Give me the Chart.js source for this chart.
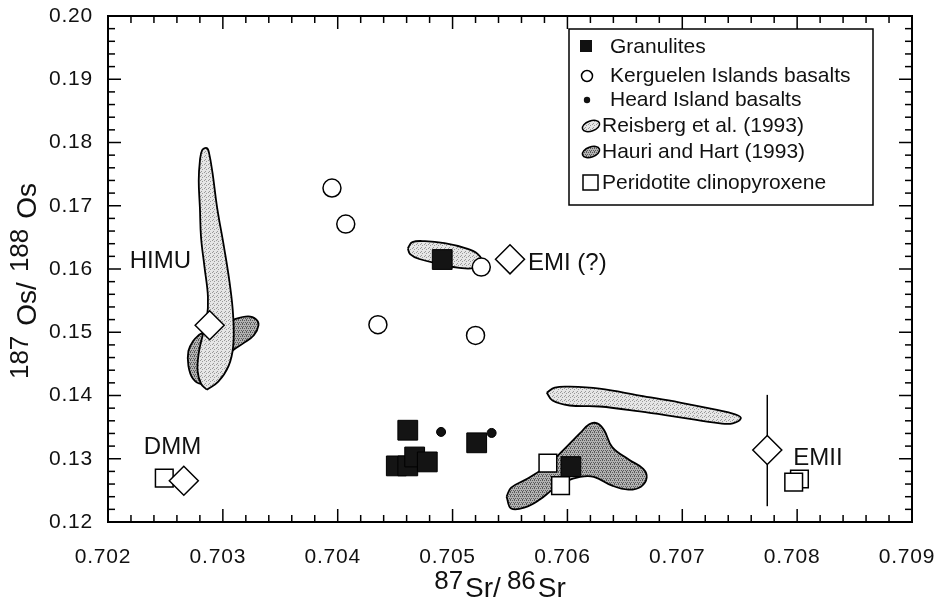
<!DOCTYPE html>
<html>
<head>
<meta charset="utf-8">
<script src="https://cdn.jsdelivr.net/npm/chart.js@4.4.1/dist/chart.umd.min.js"></script>
<style>
  html, body { margin: 0; padding: 0; background: #fff; }
</style>
</head>
<body>
<canvas id="osChart" width="935" height="602"></canvas>
<script>
// axis ranges
const X_MIN = 0.702, X_MAX = 0.709, X_STEP = 0.001, X_MINOR = 0.0002;
const Y_MIN = 0.12, Y_MAX = 0.20, Y_STEP = 0.01, Y_MINOR = 0.002;

// Granulites
const granX = [0.70461, 0.70451, 0.70461, 0.70467, 0.70478, 0.70521, 0.70491, 0.70603];
const granY = [0.13451, 0.12887, 0.12887, 0.13028, 0.12950, 0.13252, 0.16150, 0.12876];

// Kerguelen Islands basalts
const kergX = [0.70395, 0.70407, 0.70435, 0.70520, 0.70525];
const kergY = [0.1728, 0.1671, 0.1512, 0.1495, 0.1603];

// Heard Island basalts
const heardX = [0.70490, 0.70534];
const heardY = [0.13424, 0.13408];

// Peridotite clinopyroxene
const cpxX = [0.70583, 0.70594, 0.70249, 0.70802, 0.70797];
const cpxY = [0.1293, 0.12574, 0.12695, 0.1268, 0.1263];

// mantle end-members
const memberNames = ["HIMU", "DMM", "EMI (?)", "EMII"];
const memberX = [0.702885, 0.70266, 0.70550, 0.70774];
const memberY = [0.15110, 0.12653, 0.16153, 0.13138];

// EMII range bar
const emiiBarX = [0.70774, 0.70774];
const emiiBarY = [0.1225, 0.1401];

// Reisberg et al. (1993) fields
const reisHimuX = [0.70286, 0.70281, 0.70278, 0.70279, 0.70282, 0.70286, 0.70287, 0.70284, 0.70281, 0.70280,
  0.70279, 0.70280, 0.70282, 0.70286, 0.70288, 0.70291, 0.70295, 0.70301, 0.70306, 0.70309, 0.70309, 0.70305, 0.70296];
const reisHimuY = [0.14092, 0.14186, 0.14390, 0.14671, 0.14922, 0.15203, 0.15563, 0.16033, 0.16502, 0.16972,
  0.17394, 0.17707, 0.17879, 0.17911, 0.17832, 0.17519, 0.16972, 0.16346, 0.15767, 0.15251, 0.14781, 0.14468, 0.14218];

const reisEmiX = [0.70461, 0.70465, 0.70476, 0.70493, 0.70511, 0.70522, 0.70525, 0.70519, 0.70506, 0.70489, 0.70471, 0.70463];
const reisEmiY = [0.16330, 0.16424, 0.16440, 0.16408, 0.16330, 0.16236, 0.16111, 0.16017, 0.16017, 0.16080, 0.16158, 0.16236];

const reisLongX = [0.70582, 0.70589, 0.70602, 0.70628, 0.70663, 0.70698, 0.70728, 0.70746, 0.70751, 0.70744,
  0.70733, 0.70698, 0.70663, 0.70628, 0.70602, 0.70587];
const reisLongY = [0.14045, 0.14124, 0.14139, 0.14108, 0.13998, 0.13889, 0.13779, 0.13701, 0.13639, 0.13560,
  0.13560, 0.13654, 0.13748, 0.13826, 0.13842, 0.13920];

// Hauri and Hart (1993) fields
const hauriHimuX = [0.70280, 0.70293, 0.70310, 0.70322, 0.70329, 0.70331, 0.70327, 0.70318, 0.70308, 0.70299,
  0.70290, 0.70282, 0.70274, 0.70270, 0.70270, 0.70274];
const hauriHimuY = [0.14969, 0.15078, 0.15204, 0.15250, 0.15204, 0.15110, 0.14953, 0.14828, 0.14703, 0.14515,
  0.14311, 0.14186, 0.14264, 0.14468, 0.14703, 0.14859];

const hauriBigX = [0.70547, 0.70551, 0.70565, 0.70582, 0.70599, 0.70611, 0.70619, 0.70626, 0.70632, 0.70639,
  0.70654, 0.70666, 0.70669, 0.70664, 0.70653, 0.70639, 0.70623, 0.70611, 0.70598, 0.70587, 0.70576, 0.70563, 0.70551];
const hauriBigY = [0.12402, 0.12543, 0.12684, 0.12887, 0.13185, 0.13404, 0.13545, 0.13560, 0.13451, 0.13185,
  0.12981, 0.12840, 0.12700, 0.12559, 0.12512, 0.12574, 0.12715, 0.12715, 0.12637, 0.12512, 0.12355, 0.12230, 0.12214];

const FONT = '"Liberation Sans", Arial, Helvetica, sans-serif';
Chart.defaults.font.family = FONT;
Chart.defaults.color = "#111";

const canvas = document.getElementById("osChart");
const ctx = canvas.getContext("2d");

const pts = (xs, ys) => xs.map((x, i) => ({ x, y: ys[i] }));
const loop = (xs, ys) => {
  const p = pts(xs, ys);
  p.push({ ...p[0] });
  return p;
};

function stipple(base, dot, cells) {
  const c = document.createElement("canvas");
  c.width = 4;
  c.height = 4;
  const g = c.getContext("2d");
  g.fillStyle = base;
  g.fillRect(0, 0, 4, 4);
  g.fillStyle = dot;
  cells.forEach(([x, y]) => g.fillRect(x, y, 1, 1));
  return ctx.createPattern(c, "repeat");
}

const lightFill = stipple("#e6e6e6", "#9a9a9a", [[0, 0], [2, 1], [1, 3]]);
const darkFill = stipple("#b2b2b2", "#5a5a5a", [[0, 0], [2, 0], [1, 2], [3, 2], [2, 3]]);

const field = (label, xs, ys, fill, order) => ({
  label,
  data: loop(xs, ys),
  showLine: true,
  fill: "shape",
  tension: 0.4,
  backgroundColor: fill,
  borderColor: "#000",
  borderWidth: 1.8,
  pointRadius: 0,
  order,
});

const tickLine = (c, x1, y1, x2, y2) => {
  c.beginPath();
  c.moveTo(x1, y1);
  c.lineTo(x2, y2);
  c.stroke();
};

// frame with inward ticks on all four sides
const frameTicks = {
  id: "frameTicks",
  beforeDraw(chart) {
    chart.ctx.letterSpacing = "0.8px";
  },
  beforeDatasetsDraw(chart) {
    chart.ctx.letterSpacing = "0px";
  },
  afterDraw(chart) {
    const { ctx: c, chartArea: a, scales: { x, y } } = chart;
    c.save();
    c.strokeStyle = "#000";
    c.lineWidth = 1.5;
    const nx = Math.round((X_MAX - X_MIN) / X_MINOR);
    for (let i = 0; i <= nx; i++) {
      const px = x.getPixelForValue(X_MIN + i * X_MINOR);
      const len = i % 5 === 0 ? 13 : 7;
      tickLine(c, px, a.bottom, px, a.bottom - len);
      tickLine(c, px, a.top, px, a.top + len);
    }
    const ny = Math.round((Y_MAX - Y_MIN) / Y_MINOR);
    for (let i = 0; i <= ny; i++) {
      const py = y.getPixelForValue(Y_MIN + i * Y_MINOR);
      const len = i % 5 === 0 ? 13 : 7;
      tickLine(c, a.left, py, a.left + len, py);
      tickLine(c, a.right, py, a.right - len, py);
    }
    c.lineWidth = 2;
    c.strokeRect(a.left, a.top, a.right - a.left, a.bottom - a.top);
    c.restore();
  },
};

// axis titles with raised isotope numbers
const drawParts = (c, parts, startX, baseY) => {
  let cx = startX;
  parts.forEach((p) => {
    c.font = p.sup ? `26px ${FONT}` : `28px ${FONT}`;
    c.fillText(p.t, cx, baseY - (p.sup ? 8 : 0));
    cx += c.measureText(p.t).width + (p.gap || 0);
  });
  return cx - startX;
};
const partsWidth = (c, parts) =>
  parts.reduce((w, p) => {
    c.font = p.sup ? `26px ${FONT}` : `28px ${FONT}`;
    return w + c.measureText(p.t).width + (p.gap || 0);
  }, 0);

const axisTitles = {
  id: "axisTitles",
  afterDraw(chart) {
    const { ctx: c, chartArea: a } = chart;
    c.save();
    c.fillStyle = "#111";
    c.textBaseline = "alphabetic";
    c.textAlign = "left";
    const xParts = [
      { t: "87", sup: true, gap: 2 },
      { t: "Sr/", gap: 6 },
      { t: "86", sup: true, gap: 2 },
      { t: "Sr" },
    ];
    const wx = partsWidth(c, xParts);
    drawParts(c, xParts, (a.left + a.right) / 2 - 10 - wx / 2, 597);

    const yParts = [
      { t: "187", sup: true, gap: 10 },
      { t: "Os/", gap: 10 },
      { t: "188", sup: true, gap: 10 },
      { t: "Os" },
    ];
    const wy = partsWidth(c, yParts);
    c.translate(36, (a.top + a.bottom) / 2 + 12);
    c.rotate(-Math.PI / 2);
    drawParts(c, yParts, -wy / 2, 0);
    c.restore();
  },
};

// end-member labels placed next to their diamonds
const labelOffsets = [[-80, -57], [-40, -27], [18, 11], [26, 15]];
const memberLabels = {
  id: "memberLabels",
  afterDraw(chart) {
    const c = chart.ctx;
    const meta = chart.getDatasetMeta(chart.data.datasets.findIndex((d) => d.label === "members"));
    c.save();
    c.font = `24px ${FONT}`;
    c.fillStyle = "#111";
    c.textBaseline = "alphabetic";
    meta.data.forEach((el, i) => {
      c.fillText(memberNames[i], el.x + labelOffsets[i][0], el.y + labelOffsets[i][1]);
    });
    c.restore();
  },
};

// boxed legend in the upper right
const boxLegend = {
  id: "boxLegend",
  afterDraw(chart) {
    const c = chart.ctx;
    c.save();
    c.strokeStyle = "#000";
    c.lineWidth = 1.5;
    c.strokeRect(569, 29, 304, 176);
    c.font = `21px ${FONT}`;
    c.fillStyle = "#111";
    c.textBaseline = "middle";

    c.fillStyle = "#111";
    c.fillRect(580, 40, 12, 12);
    c.fillText("Granulites", 610, 47);

    c.beginPath();
    c.arc(587, 76, 5.5, 0, Math.PI * 2);
    c.fillStyle = "#fff";
    c.fill();
    c.stroke();
    c.fillStyle = "#111";
    c.fillText("Kerguelen Islands basalts", 610, 76);

    c.beginPath();
    c.arc(587, 100, 3.2, 0, Math.PI * 2);
    c.fill();
    c.fillText("Heard Island basalts", 610, 100);

    const blob = (cy, fill) => {
      c.beginPath();
      c.ellipse(591, cy, 9, 5, -0.35, 0, Math.PI * 2);
      c.fillStyle = fill;
      c.fill();
      c.stroke();
    };
    blob(126, lightFill);
    c.fillStyle = "#111";
    c.fillText("Reisberg et al. (1993)", 602, 126);
    blob(152, darkFill);
    c.fillStyle = "#111";
    c.fillText("Hauri and Hart (1993)", 602, 152);

    c.fillStyle = "#fff";
    c.fillRect(583, 175, 15, 15);
    c.strokeRect(583, 175, 15, 15);
    c.fillStyle = "#111";
    c.fillText("Peridotite clinopyroxene", 602, 183);
    c.restore();
  },
};

new Chart(ctx, {
  type: "scatter",
  data: {
    datasets: [
      field("Hauri and Hart (1993)", hauriHimuX, hauriHimuY, darkFill, 20),
      field("Hauri and Hart (1993)", hauriBigX, hauriBigY, darkFill, 20),
      field("Reisberg et al. (1993)", reisHimuX, reisHimuY, lightFill, 19),
      field("Reisberg et al. (1993)", reisEmiX, reisEmiY, lightFill, 19),
      field("Reisberg et al. (1993)", reisLongX, reisLongY, lightFill, 19),
      {
        label: "EMII range",
        data: pts(emiiBarX, emiiBarY),
        showLine: true,
        borderColor: "#000",
        borderWidth: 1.5,
        pointRadius: 0,
        order: 10,
      },
      {
        label: "Peridotite clinopyroxene",
        data: pts(cpxX, cpxY),
        pointStyle: "rect",
        pointRadius: 12.5,
        backgroundColor: "#fff",
        borderColor: "#000",
        borderWidth: 1.5,
        order: 6,
      },
      {
        label: "Granulites",
        data: pts(granX, granY),
        pointStyle: "rect",
        pointRadius: 14,
        backgroundColor: "#141414",
        borderColor: "#000",
        borderWidth: 1,
        order: 5,
      },
      {
        label: "Kerguelen Islands basalts",
        data: pts(kergX, kergY),
        pointStyle: "circle",
        pointRadius: 9,
        backgroundColor: "#fff",
        borderColor: "#000",
        borderWidth: 1.5,
        order: 4,
      },
      {
        label: "Heard Island basalts",
        data: pts(heardX, heardY),
        pointStyle: "circle",
        pointRadius: 4.5,
        backgroundColor: "#111",
        borderColor: "#000",
        borderWidth: 1,
        order: 4,
      },
      {
        label: "members",
        data: pts(memberX, memberY),
        pointStyle: "rectRot",
        pointRadius: 14.5,
        backgroundColor: "#fff",
        borderColor: "#000",
        borderWidth: 1.5,
        order: 1,
      },
    ],
  },
  options: {
    responsive: false,
    animation: false,
    events: [],
    layout: { padding: { top: 11, right: 23, left: 0, bottom: 0 } },
    plugins: { legend: { display: false }, tooltip: { enabled: false } },
    scales: {
      x: {
        type: "linear",
        min: X_MIN,
        max: X_MAX,
        afterFit: (s) => {
          s.height = 80;
          s.paddingLeft = 0;
          s.paddingRight = 0;
        },
        grid: { display: false, drawTicks: false },
        border: { display: false },
        ticks: {
          stepSize: X_STEP,
          autoSkip: false,
          maxRotation: 0,
          padding: 23,
          labelOffset: -5,
          font: { size: 21 },
          callback: (v) => Number(v).toFixed(3),
        },
      },
      y: {
        type: "linear",
        min: Y_MIN,
        max: Y_MAX,
        afterFit: (s) => {
          s.width = 108;
          s.paddingTop = 0;
          s.paddingBottom = 0;
        },
        grid: { display: false, drawTicks: false },
        border: { display: false },
        ticks: {
          stepSize: Y_STEP,
          autoSkip: false,
          padding: 15,
          font: { size: 21 },
          callback: (v) => Number(v).toFixed(2),
        },
      },
    },
  },
  plugins: [frameTicks, axisTitles, memberLabels, boxLegend],
});
</script>
</body>
</html>
